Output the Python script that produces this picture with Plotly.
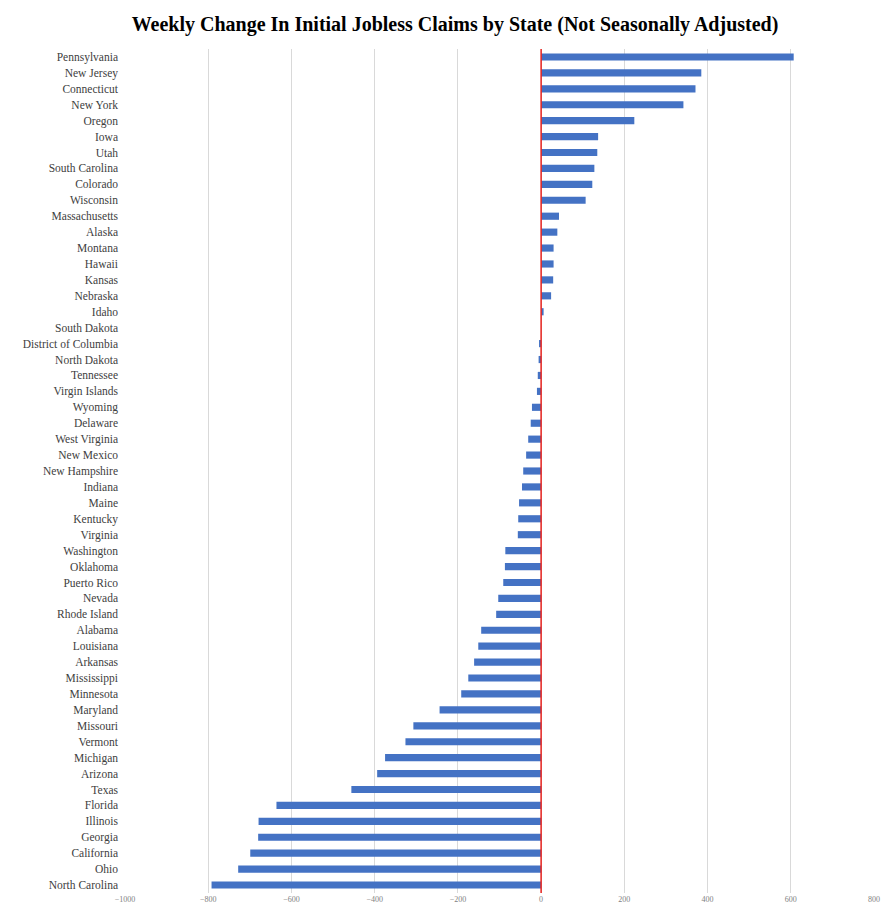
import plotly.graph_objects as go

states = ["Pennsylvania", "New Jersey", "Connecticut", "New York", "Oregon", "Iowa", "Utah",
          "South Carolina", "Colorado", "Wisconsin", "Massachusetts", "Alaska", "Montana",
          "Hawaii", "Kansas", "Nebraska", "Idaho", "South Dakota", "District of Columbia",
          "North Dakota", "Tennessee", "Virgin Islands", "Wyoming", "Delaware", "West Virginia",
          "New Mexico", "New Hampshire", "Indiana", "Maine", "Kentucky", "Virginia",
          "Washington", "Oklahoma", "Puerto Rico", "Nevada", "Rhode Island", "Alabama",
          "Louisiana", "Arkansas", "Mississippi", "Minnesota", "Maryland", "Missouri",
          "Vermont", "Michigan", "Arizona", "Texas", "Florida", "Illinois", "Georgia",
          "California", "Ohio", "North Carolina"]
change = [607, 385, 371, 342, 224, 137, 135,
          128, 123, 107, 43, 39, 30,
          30, 29, 24, 6, 0, -5,
          -6, -8, -10, -22, -25, -31,
          -36, -43, -46, -53, -55, -56,
          -86, -87, -91, -103, -108, -144,
          -151, -161, -175, -192, -244, -307,
          -326, -375, -394, -456, -636, -679, -680,
          -699, -728, -792]
ticks = list(range(-1000, 801, 200))

fig = go.Figure(go.Bar(
    x=change, y=states, orientation="h",
    marker=dict(color="#4472C4", line=dict(width=0)),
    width=0.45,
))

fig.add_shape(type="line", x0=0, x1=0, y0=0, y1=1, yref="paper",
              line=dict(color="#E8231F", width=1.5))

fig.update_layout(
    width=894, height=907,
    margin=dict(l=117, r=28, t=41, b=22),
    paper_bgcolor="white", plot_bgcolor="white",
    title=dict(text="<b>Weekly Change In Initial Jobless Claims by State (Not Seasonally Adjusted)</b>",
               x=0.5, y=0.99, yanchor="top", xanchor="center",
               font=dict(family="Liberation Serif", size=20, color="black")),
    showlegend=False,
    font=dict(family="Liberation Serif"),
)
fig.update_xaxes(range=[-1000, 800], tickvals=ticks, showgrid=True, gridcolor="#D9D9D9",
                 gridwidth=1, zeroline=False, automargin=False,
                 tickfont=dict(size=8, color="#7F7F7F", family="Liberation Serif"),
                 showline=False)
fig.update_yaxes(autorange="reversed", tickfont=dict(size=11.5, color="#404040"),
                 showgrid=False, ticks="", showline=False, automargin=False, ticklabelstandoff=6)

fig.write_html("out.html")
